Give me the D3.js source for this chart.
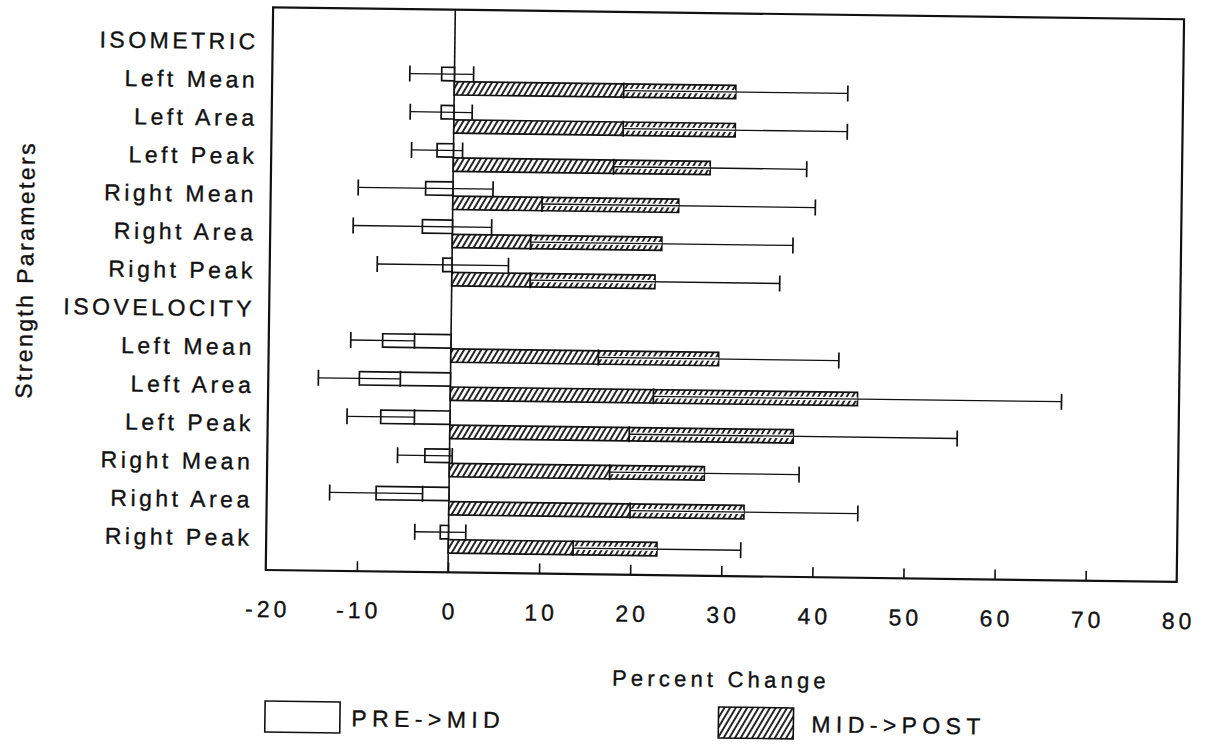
<!DOCTYPE html>
<html>
<head>
<meta charset="utf-8">
<script src="https://cdn.jsdelivr.net/npm/d3@7"></script>
<style>
  html, body { margin: 0; padding: 0; background: #fff; }
  svg { display: block; }
  text { font-family: "Liberation Sans", Arial, Helvetica, sans-serif; fill: #111; stroke: #111; stroke-width: 0.35px; }
</style>
</head>
<body>
<svg id="chart" width="1209" height="746"></svg>
<script>
// Strength parameters, grouped by test type
const groups = ["ISOMETRIC", "ISOVELOCITY"];
const params = ["Left Mean", "Left Area", "Left Peak", "Right Mean", "Right Area", "Right Peak"];

// Mean percent change and its error, in the order ISOMETRIC x params, then ISOVELOCITY x params
const preMid     = [-1.4, -1.4, -1.8, -3.0, -3.3, -1.0,   -7.5, -10.0, -7.6, -2.7, -8.0, -0.9];
const preMidErr  = [ 3.5,  3.4,  2.8,  7.4,  7.6,  7.2,    3.5,   4.5,  3.7,  3.0,  5.1,  2.8];
const midPost    = [30.9, 30.9, 28.2, 24.8, 23.0, 22.3,   29.4,  44.7, 37.7, 28.0, 32.4, 22.9];
const midPostErr = [12.3, 12.3, 10.6, 15.0, 14.4, 13.7,   13.2,  22.4, 18.0, 10.4, 12.5,  9.2];

const xTicks = [-20, -10, 0, 10, 20, 30, 40, 50, 60, 70, 80];
const seriesNames = ["PRE->MID", "MID->POST"];
const xTitle = "Percent Change";
const yTitle = "Strength Parameters";

// Row list: a header row per group followed by its parameter rows
const rows = [];
const items = [];
groups.forEach((g, gi) => {
  rows.push({ key: g, label: g, header: true });
  params.forEach((p, pi) => {
    const k = g + "|" + p;
    rows.push({ key: k, label: p, header: false });
    const idx = gi * params.length + pi;
    items.push({ key: k, pre: preMid[idx], preErr: preMidErr[idx], post: midPost[idx], postErr: midPostErr[idx] });
  });
});

const svg = d3.select("#chart");

// Hatch used for MID->POST bars
const defs = svg.append("defs");
const hatch = defs.append("pattern")
  .attr("id", "hatch")
  .attr("patternUnits", "userSpaceOnUse")
  .attr("width", 4.9).attr("height", 10)
  .attr("patternTransform", "rotate(30)");
hatch.append("rect").attr("width", 4.9).attr("height", 10).attr("fill", "#fff");
hatch.append("line")
  .attr("x1", 1).attr("y1", 0).attr("x2", 1).attr("y2", 10)
  .attr("stroke", "#111").attr("stroke-width", 1.8);

// The whole sheet sits slightly turned
const g = svg.append("g").attr("transform", "rotate(0.75, 725, 295)");

const plot = { left: 269.4, right: 1180.4, top: 13.3, bottom: 576 };

const x = d3.scaleLinear().domain([xTicks[0], xTicks[xTicks.length - 1]]).range([plot.left, plot.right]);
const y = d3.scalePoint().domain(rows.map(r => r.key)).range([46.6, 542.9]);

const barH = 13.4;
const capH = 16;
const ink = "#111";

// Frame
g.append("rect")
  .attr("x", plot.left).attr("y", plot.top)
  .attr("width", plot.right - plot.left).attr("height", plot.bottom - plot.top)
  .attr("fill", "none").attr("stroke", ink).attr("stroke-width", 2.2);

// Bottom axis: short inward ticks, labels below the frame
const axis = d3.axisBottom(x).tickValues(xTicks).tickSize(-10).tickSizeOuter(0).tickFormat(d => String(d));
const axG = g.append("g").attr("transform", `translate(0,${plot.bottom})`).call(axis);
axG.attr("font-family", null).attr("font-size", null);
axG.select(".domain").remove();
axG.selectAll(".tick line").attr("stroke", ink).attr("stroke-width", 1.6)
  .filter(d => d === xTicks[0] || d === xTicks[xTicks.length - 1]).remove();
axG.selectAll(".tick text")
  .attr("y", 47).attr("dy", 0)
  .attr("dx", "2px")
  .style("font-size", "23px").style("letter-spacing", "4px")
  .attr("fill", ink);

// Zero line
g.append("line")
  .attr("x1", x(0)).attr("x2", x(0))
  .attr("y1", plot.top).attr("y2", plot.bottom)
  .attr("stroke", ink).attr("stroke-width", 1.6);

// Row labels
g.append("g").selectAll("text").data(rows).join("text")
  .attr("x", 255.5)
  .attr("y", d => y(d.key) + 9)
  .attr("text-anchor", "end")
  .style("font-size", "23px").style("letter-spacing", "3.5px")
  .text(d => d.label);

// PRE->MID bars (above each row centre)
g.append("g").selectAll("rect").data(items).join("rect")
  .attr("x", d => x(Math.min(d.pre, 0)))
  .attr("width", d => Math.abs(x(d.pre) - x(0)))
  .attr("y", d => y(d.key) - 13.8)
  .attr("height", barH)
  .attr("fill", "#fff").attr("stroke", ink).attr("stroke-width", 1.7);

// MID->POST bars (below each row centre)
g.append("g").selectAll("rect").data(items).join("rect")
  .attr("x", d => x(Math.min(d.post, 0)))
  .attr("width", d => Math.abs(x(d.post) - x(0)))
  .attr("y", d => y(d.key) + 0.4)
  .attr("height", barH)
  .attr("fill", "url(#hatch)").attr("stroke", ink).attr("stroke-width", 1.7);

// Error bars
function errorBars(sel, valueOf, errOf, dy, halo) {
  const eg = sel.append("g").selectAll("g").data(items).join("g");
  if (halo) {
    eg.append("line")
      .attr("x1", d => x(valueOf(d) - errOf(d)))
      .attr("x2", d => x(valueOf(d)))
      .attr("y1", d => y(d.key) + dy).attr("y2", d => y(d.key) + dy)
      .attr("stroke", "#fff").attr("stroke-width", 3.6);
  }
  eg.append("line")
    .attr("x1", d => x(valueOf(d) - errOf(d)))
    .attr("x2", d => x(valueOf(d) + errOf(d)))
    .attr("y1", d => y(d.key) + dy).attr("y2", d => y(d.key) + dy)
    .attr("stroke", ink).attr("stroke-width", 1.3);
  [-1, 1].forEach(s => {
    eg.append("line")
      .attr("x1", d => x(valueOf(d) + s * errOf(d)))
      .attr("x2", d => x(valueOf(d) + s * errOf(d)))
      .attr("y1", d => y(d.key) + dy - capH / 2)
      .attr("y2", d => y(d.key) + dy + capH / 2)
      .attr("stroke", ink).attr("stroke-width", 1.7);
  });
}
errorBars(g, d => d.pre, d => d.preErr, -7.1, false);
errorBars(g, d => d.post, d => d.postErr, 7.1, true);

// Axis titles
g.append("text")
  .attr("x", 726).attr("y", 687)
  .attr("text-anchor", "middle")
  .style("font-size", "22px").style("letter-spacing", "4.2px")
  .text(xTitle);

g.append("text")
  .attr("transform", "translate(33,279) rotate(-90)")
  .attr("text-anchor", "middle")
  .style("font-size", "23px").style("letter-spacing", "2.4px")
  .text(yTitle);

// Legend
const legend = [
  { name: seriesNames[0], fill: "#fff", bx: 270.5, tx: 357 },
  { name: seriesNames[1], fill: "url(#hatch)", bx: 724, tx: 817 }
];
const lg = g.append("g").selectAll("g").data(legend).join("g");
lg.append("rect")
  .attr("x", d => d.bx).attr("y", 707)
  .attr("width", 75).attr("height", 31)
  .attr("fill", d => d.fill).attr("stroke", ink).attr("stroke-width", 1.6);
lg.append("text")
  .attr("x", d => d.tx).attr("y", 731)
  .style("font-size", "23px").style("letter-spacing", "5.4px")
  .text(d => d.name);
</script>
</body>
</html>
